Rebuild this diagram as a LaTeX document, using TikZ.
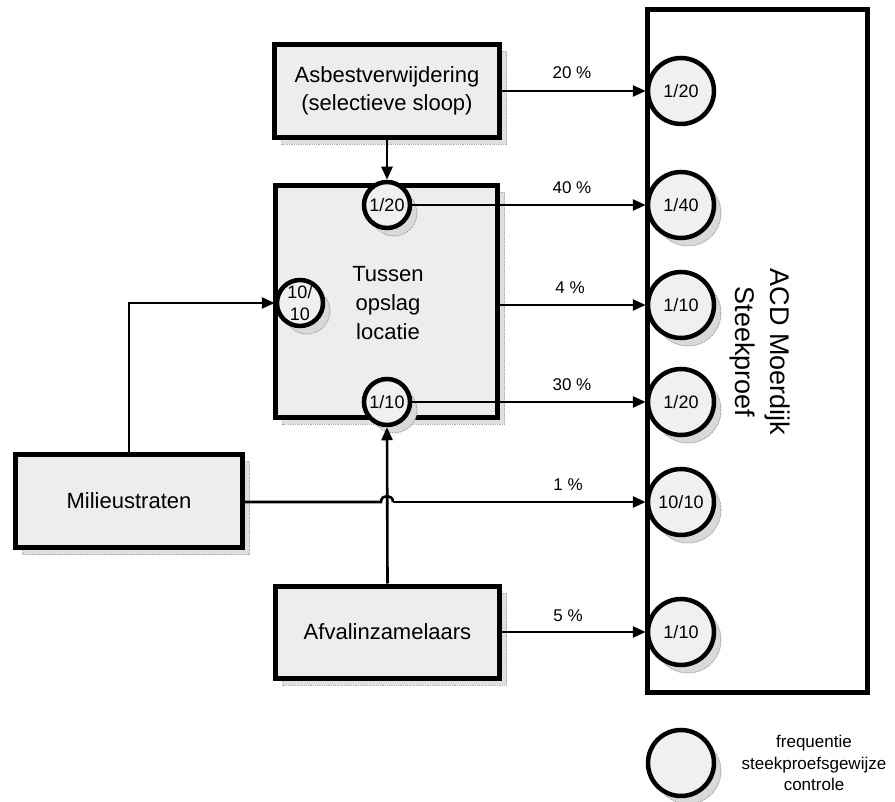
\documentclass[tikz,border=0pt]{standalone}
\usepackage{fontspec}
\setmainfont{Liberation Sans}
\usetikzlibrary{arrows.meta,shadows}

\tikzset{
  boxshadow/.style={general shadow={shadow xshift=7pt, shadow yshift=-7pt,
      fill=gray!25, draw=gray!65, line width=0.8pt, densely dotted}},
  circshadow/.style={general shadow={shadow xshift=7pt, shadow yshift=-8pt,
      fill=gray!30, draw=gray!75, line width=1pt, densely dotted}},
  procbox/.style={draw, line width=5pt, fill=gray!14, inner sep=0pt,
      align=center, font=\fontsize{22}{28}\selectfont, boxshadow},
  sample/.style={circle, draw, line width=4.5pt, fill=gray!12, inner sep=0pt,
      align=center, font=\fontsize{18}{21}\selectfont},
  smallsample/.style={sample, minimum size=46pt, circshadow},
  bigsample/.style={sample, minimum size=66pt},
  perc/.style={inner sep=0pt, font=\fontsize{17}{20}\selectfont},
  flow/.style={line width=2.6pt, -{Triangle[length=13pt,width=11pt]}},
  plainflow/.style={line width=2.6pt},
}

\begin{document}
\begin{tikzpicture}[x=1pt,y=-1pt]
\useasboundingbox (0,0) rectangle (895,802);

% sampling station (large frame on the right)
\node[draw, line width=5pt, fill=white, minimum width=220pt,
      minimum height=683pt, inner sep=0pt] (acd) at (757.5,351) {};
\node[rotate=-90, align=center, inner sep=0pt,
      font=\fontsize{27}{35}\selectfont] (acdtext) at (760,352)
      {ACD Moerdijk\\Steekproef};

% sample points along the station
\node[bigsample] (r1) at (681,91) {1/20};
\node[bigsample, circshadow] (r2) at (681,205) {1/40};
\node[bigsample, circshadow] (r3) at (681,305) {1/10};
\node[bigsample, circshadow] (r4) at (681,402) {1/20};
\node[bigsample, circshadow] (r5) at (681,502) {10/10};
\node[bigsample, circshadow] (r6) at (681,632) {1/10};

% sources
\node[procbox, minimum width=225pt, minimum height=93pt] (asb) at (387,91)
      {Asbestverwijdering\\(selectieve sloop)};
\node[procbox, minimum width=222pt, minimum height=232pt] (tus) at (386.5,301.5) {};
\node[align=center, inner sep=0pt, font=\fontsize{22}{29}\selectfont] (tustext)
      at (388,303) {Tussen\\opslag\\locatie};
\node[procbox, minimum width=227pt, minimum height=93pt] (mil) at (129,501)
      {Milieustraten};
\node[procbox, minimum width=224pt, minimum height=92pt] (afv) at (387.5,632)
      {Afvalinzamelaars};

% sample points at the intermediate storage
\node[smallsample] (c1) at (387,205) {1/20};
\node[smallsample, font=\fontsize{18}{22}\selectfont] (c2) at (300,303) {10/\\10};
\node[smallsample] (c3) at (387,402) {1/10};

% connectors
\draw[flow] (asb.east) -- (r1.west);
\draw[flow] (asb.south) -- (c1.north);
\draw[flow] (c1.east) -- (r2.west);
\draw[flow] (tus.east |- r3.west) -- (r3.west);
\draw[flow] (c3.east) -- (r4.west);
\draw[flow] (mil.north) |- (c2.west);
\draw[flow] (afv.north) -- (c3.south);
\draw[flow] (afv.east |- r6.west) -- (r6.west);

% Milieustraten line hops over the vertical connector
\coordinate (hopL) at (381,502);
\coordinate (hopR) at (393,502);
\draw[plainflow] (mil.east |- hopL) -- (hopL)
      .. controls (381,494) and (393,494) .. (hopR);
\draw[flow] (hopR) -- (r5.west);

% percentages
\node[perc] (p1) at (572,73) {20 \%};
\node[perc] (p2) at (572,188) {40 \%};
\node[perc] (p3) at (570,288) {4 \%};
\node[perc] (p4) at (572,385) {30 \%};
\node[perc] (p5) at (568,485) {1 \%};
\node[perc] (p6) at (568,616) {5 \%};

% legend
\node[bigsample, circshadow] (leg) at (681,763) {};
\node[align=center, inner sep=0pt, font=\fontsize{17}{21.5}\selectfont]
      (legtext) at (814,763) {frequentie\\steekproefsgewijze\\controle};
\end{tikzpicture}
\end{document}
